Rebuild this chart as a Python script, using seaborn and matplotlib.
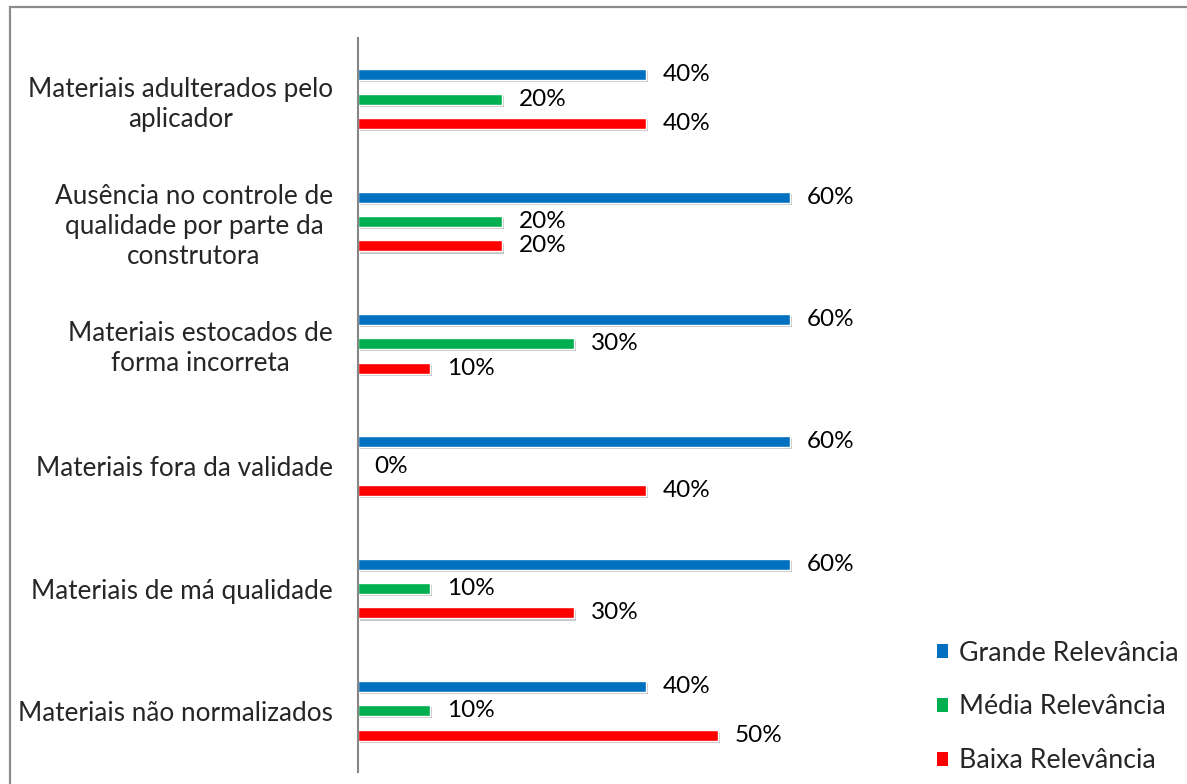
import matplotlib
matplotlib.use("Agg")
import matplotlib.pyplot as plt
import matplotlib.patheffects as pe
from matplotlib.patches import Rectangle, Patch
import seaborn as sns
import pandas as pd

categories = [
    "Materiais adulterados pelo\naplicador",
    "Ausência no controle de\nqualidade por parte da\nconstrutora",
    "Materiais estocados de\nforma incorreta",
    "Materiais fora da validade",
    "Materiais de má qualidade",
    "Materiais não normalizados",
]
series_names = ["Grande Relevância", "Média Relevância", "Baixa Relevância"]
grande = [40, 60, 60, 60, 60, 40]
media = [20, 20, 30, 0, 10, 10]
baixa = [40, 20, 10, 40, 30, 50]
colors = ["#0070C0", "#00B050", "#FF0000"]

rows = []
for name, vals in zip(series_names, [grande, media, baixa]):
    for cat, v in zip(categories, vals):
        rows.append({"categoria": cat, "serie": name, "valor": v})
df = pd.DataFrame(rows)

sns.set_style("white")
plt.rcParams["font.family"] = ["Lato", "DejaVu Sans"]

fig = plt.figure(figsize=(11.87, 7.84), dpi=100)
ax = fig.add_axes([358 / 1187, 12 / 784, 720 / 1187, 734 / 784])

sns.barplot(
    data=df, y="categoria", x="valor", hue="serie", order=categories,
    hue_order=series_names, palette=colors, orient="h",
    width=0.6, gap=0.55, ax=ax, legend=False, saturation=1,
)

shadow = [pe.SimplePatchShadow(offset=(1.5, -1.5), shadow_rgbFace="#808080", alpha=0.45),
          pe.Normal()]
for cont in ax.containers:
    for bar in cont:
        bar.set_path_effects(shadow)
    ax.bar_label(cont, labels=[f"{v:g}%" for v in cont.datavalues],
                 padding=12, fontsize=17.5, color="black")

ax.set_xlim(0, 100)
ax.set_ylim(5.5, -0.5)
ax.set_xlabel("")
ax.set_ylabel("")
ax.set_xticks([])
ax.tick_params(axis="y", length=0, pad=18, labelsize=18.8)
for lbl in ax.get_yticklabels():
    lbl.set_multialignment("center")
    lbl.set_linespacing(1.25)
for side in ["top", "right", "bottom"]:
    ax.spines[side].set_visible(False)
ax.spines["left"].set_color("#868686")
ax.spines["left"].set_linewidth(1.5)
ax.patch.set_alpha(0)

handles = [Patch(facecolor=c, edgecolor="none") for c in colors]
fig.legend(handles, series_names, loc="center left",
           bbox_to_anchor=(937 / 1187, 1 - 707 / 784), frameon=False, fontsize=19.3,
           handlelength=0.4, handleheight=0.4, handletextpad=0.42,
           labelspacing=1.08, borderaxespad=0, borderpad=0)

fig.add_artist(Rectangle((10 / 1187, -0.05), 1.2, 1 - 7 / 784 + 0.05,
                         transform=fig.transFigure, fill=False,
                         edgecolor="#8c8c8c", linewidth=1.6, zorder=-1))

fig.savefig("out.png", dpi=100)
